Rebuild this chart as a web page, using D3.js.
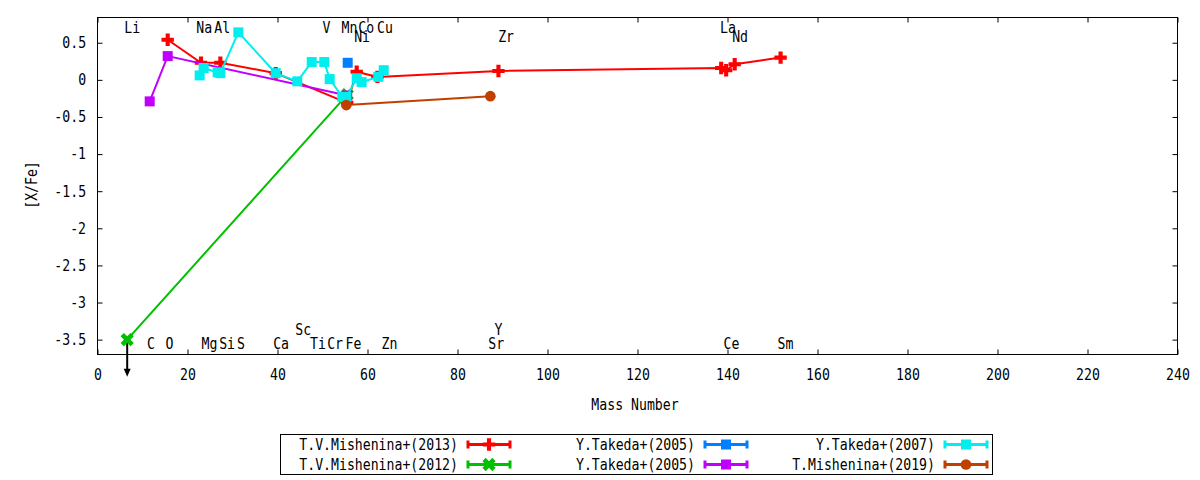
<!DOCTYPE html>
<html>
<head>
<meta charset="utf-8">
<script src="https://cdn.jsdelivr.net/npm/d3@7"></script>
<style>
	body { margin: 0; background: #fff; }
	svg text { font-family: "DejaVu Sans Mono", monospace; font-size: 15px; fill: #000; }
	.axis path.domain { display: none; }
	.axis line { stroke: #000; }
</style>
</head>
<body>
<svg id="chart"></svg>
<script>
// [X/Fe] against mass number, six abundance studies
let mishenina13Mass	= [15.6, 23.0, 27.3, 39.6, 55.5, 57.6, 62.2, 89.1, 138.6, 139.7, 141.6, 151.8];
let mishenina13XFe	= [0.54, 0.23, 0.23, 0.09, -0.31, 0.11, 0.04, 0.12, 0.16, 0.13, 0.21, 0.30];

let mishenina12Mass	= [6.6, 55.5];
let mishenina12XFe	= [-3.5, -0.20];

let takeda05aMass	= [55.6];
let takeda05aXFe	= [0.23];

let takeda05bMass	= [11.6, 15.6, 55.5];
let takeda05bXFe	= [-0.29, 0.32, -0.21];

let takeda07Mass	= [22.7, 23.6, 26.7, 27.3, 31.3, 39.6, 44.4, 47.6, 50.4, 51.6, 54.4, 55.3, 57.6, 58.7, 62.4, 63.6];
let takeda07XFe		= [0.06, 0.16, 0.10, 0.09, 0.64, 0.09, -0.02, 0.24, 0.24, 0.01, -0.23, -0.23, 0.02, -0.03, 0.04, 0.13];

let mishenina19Mass	= [55.3, 87.3];
let mishenina19XFe	= [-0.34, -0.22];

let seriesNames		= ['T.V.Mishenina+(2013)', 'T.V.Mishenina+(2012)', 'Y.Takeda+(2005)', 'Y.Takeda+(2005)', 'Y.Takeda+(2007)', 'T.Mishenina+(2019)'];

let xTicks			= [0, 20, 40, 60, 80, 100, 120, 140, 160, 180, 200, 220, 240];
let yTicks			= [0.5, 0, -0.5, -1, -1.5, -2, -2.5, -3, -3.5];

// element names written inside the frame, at their mass and one of four rows
let elemNames		= ['Li', 'Na', 'Al', 'V', 'Mn', 'Co', 'Cu', 'La', 'Ni', 'Zr', 'Nd', 'Sc', 'Y', 'C', 'O', 'Mg', 'Si', 'S', 'Ca', 'Ti', 'Cr', 'Fe', 'Zn', 'Sr', 'Ce', 'Sm'];
let elemMass		= [7.7, 23.7, 27.7, 50.9, 56.0, 59.7, 63.9, 140.1, 58.8, 90.8, 142.8, 45.7, 89.1, 11.9, 16.0, 24.9, 28.8, 31.9, 40.8, 49.0, 52.8, 56.9, 64.9, 88.6, 140.9, 152.9];
let elemLevel		= [0.71, 0.71, 0.71, 0.71, 0.71, 0.71, 0.71, 0.71, 0.58, 0.58, 0.58, -3.37, -3.37, -3.55, -3.55, -3.55, -3.55, -3.55, -3.55, -3.55, -3.55, -3.55, -3.55, -3.55, -3.55, -3.55];

let canvasWidth		= 1200;
let canvasHeight	= 480;

let svg				= d3.select('#chart')
	.attr('width', canvasWidth)
	.attr('height', canvasHeight);

let x				= d3.scaleLinear().domain([0, 240]).range([97.5, 1177.5]);
let y				= d3.scaleLinear().domain([-3.7, 0.84]).range([354.5, 17.5]);

function txt(g, px, py, s, anchor) {
	return g.append('text')
		.attr('transform', 'translate(' + px + ',' + py + ') scale(0.88,1)')
		.attr('text-anchor', anchor || 'middle')
		.attr('dy', '0.36em')
		.text(s);
}

// axes, ticks pointing inward and mirrored
svg.append('g').attr('class', 'axis')
	.attr('transform', 'translate(0,354.5)')
	.call(d3.axisBottom(x).tickValues(xTicks).tickSize(-5).tickSizeOuter(0).tickPadding(15))
	.selectAll('text').attr('transform', 'scale(0.88,1)');
svg.append('g').attr('class', 'axis')
	.attr('transform', 'translate(0,17.5)')
	.call(d3.axisTop(x).tickValues(xTicks).tickSize(-5).tickSizeOuter(0).tickFormat(''));
svg.append('g').attr('class', 'axis')
	.attr('transform', 'translate(97.5,0)')
	.call(d3.axisLeft(y).tickValues(yTicks).tickSize(-5).tickSizeOuter(0).tickPadding(13).tickFormat((d) => String(d)))
	.selectAll('text').attr('transform', 'scale(0.88,1)');
svg.append('g').attr('class', 'axis')
	.attr('transform', 'translate(1177.5,0)')
	.call(d3.axisRight(y).tickValues(yTicks).tickSize(-5).tickSizeOuter(0).tickFormat(''));
svg.selectAll('.axis text').style('font-size', '15px').style('font-family', '"DejaVu Sans Mono", monospace');

svg.append('rect')
	.attr('x', 97.5).attr('y', 17.5)
	.attr('width', 1080).attr('height', 337)
	.attr('fill', 'none')
	.attr('stroke', '#000');

txt(svg, 635, 405, 'Mass Number');
svg.append('text')
	.attr('transform', 'translate(32,185) rotate(-90) scale(0.88,1)')
	.attr('text-anchor', 'middle')
	.attr('dy', '0.36em')
	.text('[X/Fe]');

// element labels
let elemG			= svg.append('g');
elemNames.forEach((n, i) => txt(elemG, x(elemMass[i]), y(elemLevel[i]), n));

// series table built from the arrays above
let series			= [
	{ name: seriesNames[0], color: '#ff0000', shape: 'plus',   xs: mishenina13Mass, ys: mishenina13XFe },
	{ name: seriesNames[1], color: '#00c000', shape: 'cross',  xs: mishenina12Mass, ys: mishenina12XFe, limit: [true, false] },
	{ name: seriesNames[2], color: '#0080ff', shape: 'square', xs: takeda05aMass,   ys: takeda05aXFe },
	{ name: seriesNames[3], color: '#c000ff', shape: 'square', xs: takeda05bMass,   ys: takeda05bXFe },
	{ name: seriesNames[4], color: '#00eeee', shape: 'square', xs: takeda07Mass,    ys: takeda07XFe },
	{ name: seriesNames[5], color: '#c04000', shape: 'circle', xs: mishenina19Mass, ys: mishenina19XFe }
];

let symbols			= {
	plus:	d3.symbol().type(d3.symbolCross).size(85)(),
	cross:	d3.symbol().type(d3.symbolCross).size(110)(),
	square:	d3.symbol().type(d3.symbolSquare).size(100)(),
	circle:	d3.symbol().type(d3.symbolCircle).size(90)()
};

function marker(g, px, py, s) {
	return g.append('path')
		.attr('d', symbols[s.shape])
		.attr('fill', s.color)
		.attr('transform', 'translate(' + px + ',' + py + ')' + (s.shape === 'cross' ? ' rotate(45)' : ''));
}

let lineFunc		= d3.line().x((d) => x(d[0])).y((d) => y(d[1]));

series.forEach((s) => {
	let g		= svg.append('g');
	let pts		= s.xs.map((v, i) => [v, s.ys[i]]);
	g.append('path')
		.attr('d', lineFunc(pts))
		.attr('fill', 'none')
		.attr('stroke', s.color)
		.attr('stroke-width', 2);
	// upper limits: arrow pointing down
	if (s.limit) {
		pts.forEach((p, i) => {
			if (!s.limit[i]) return;
			let px = x(p[0]), py = y(p[1]), tip = y(p[1] - 0.5);
			g.append('line')
				.attr('x1', px).attr('y1', py)
				.attr('x2', px).attr('y2', tip - 4)
				.attr('stroke', '#000').attr('stroke-width', 2);
			g.append('path')
				.attr('d', 'M' + (px - 3.5) + ',' + (tip - 8) + 'L' + (px + 3.5) + ',' + (tip - 8) + 'L' + px + ',' + tip + 'Z')
				.attr('fill', '#000');
		});
	}
	pts.forEach((p) => marker(g, x(p[0]), y(p[1]), s));
});

// legend: two rows, three columns
svg.append('rect')
	.attr('x', 280.5).attr('y', 434.5)
	.attr('width', 712).attr('height', 40)
	.attr('fill', 'none')
	.attr('stroke', '#000');

let legTextEnd		= [458, 695, 935];
let legRowY			= [444.5, 464.5];
let legG			= svg.append('g');
series.forEach((s, i) => {
	let col = Math.floor(i / 2), row = i % 2;
	let ly = legRowY[row], x1 = legTextEnd[col] + 10, x2 = legTextEnd[col] + 52;
	txt(legG, legTextEnd[col], ly, s.name, 'end');
	legG.append('path')
		.attr('d', 'M' + x1 + ',' + ly + 'H' + x2 + 'M' + x1 + ',' + (ly - 4) + 'V' + (ly + 4) + 'M' + x2 + ',' + (ly - 4) + 'V' + (ly + 4))
		.attr('stroke', s.color)
		.attr('stroke-width', 3)
		.attr('fill', 'none');
	marker(legG, (x1 + x2) / 2, ly, s);
});
</script>
</body>
</html>
